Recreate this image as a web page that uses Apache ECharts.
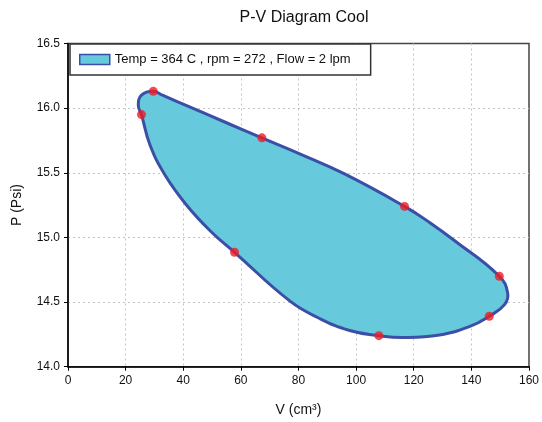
<!DOCTYPE html>
<html>
<head>
<meta charset="utf-8">
<script src="https://cdn.jsdelivr.net/npm/echarts@6/dist/echarts.min.js"></script>
<style>html,body{margin:0;padding:0;background:#fff}#c{width:542px;height:422px}</style>
</head>
<body>
<div id="c"></div>
<script>
// Outline of the loop (V, P), traced clockwise from the upper-left marker
var outlineV = [25.5, 24.4, 25.5, 29.6, 33.0, 42.0, 55.0, 67.3, 80.42, 96.0, 116.8, 125.5, 134.1, 149.7, 152.6, 151.5, 146.2, 139.3, 128.9, 116.5, 107.9, 97.75, 87.35, 76.95, 57.8, 49.77, 41.11, 33.66, 28.46];
var outlineP = [15.95, 16.02, 16.10, 16.13, 16.098, 16.012, 15.887, 15.77, 15.647, 15.491, 15.24, 15.116, 14.976, 14.70, 14.57, 14.48, 14.39, 14.31, 14.245, 14.225, 14.24, 14.28, 14.373, 14.509, 14.885, 15.042, 15.251, 15.483, 15.715];
// Measured points (red markers)
var pointV = [29.6, 25.5, 67.3, 116.8, 149.7, 146.2, 107.9, 57.8];
var pointP = [16.13, 15.95, 15.77, 15.24, 14.70, 14.39, 14.24, 14.885];
var xTicks = [0, 20, 40, 60, 80, 100, 120, 140, 160];
var yTicks = [14.0, 14.5, 15.0, 15.5, 16.0, 16.5];
var seriesName = 'Temp = 364 C , rpm = 272 , Flow = 2 lpm';

var FONT = '"Liberation Sans", Arial, sans-serif';
var chart = echarts.init(document.getElementById('c'), null, {renderer: 'canvas'});
var outlineData = outlineV.map(function (v, i) { return [v, outlineP[i]]; });
var pointData = pointV.map(function (v, i) { return [v, pointP[i]]; });

chart.setOption({
  animation: false,
  backgroundColor: '#fff',
  textStyle: {fontFamily: FONT},
  title: {
    text: 'P-V Diagram Cool',
    left: 299, textAlign: 'center', top: 5,
    textStyle: {fontFamily: FONT, fontSize: 16, fontWeight: 'normal', color: '#111'}
  },
  legend: {
    left: 70, top: 44,
    orient: 'horizontal',
    backgroundColor: '#fff',
    borderColor: '#333', borderWidth: 1.5,
    padding: [9, 20, 9, 9],
    itemWidth: 30, itemHeight: 10,
    data: [{name: seriesName, icon: 'rect'}],
    itemStyle: {color: '#66c9dc', borderColor: '#3a4fa5', borderWidth: 1.5},
    textStyle: {fontFamily: FONT, fontSize: 13, color: '#111'},
    selectedMode: false
  },
  grid: {left: 68, right: 12, top: 43.5, bottom: 55.3, show: true, borderColor: '#444', borderWidth: 1.5, containLabel: false},
  xAxis: {
    type: 'value', min: 0, max: 160, interval: 20,
    name: 'V (cm³)', nameLocation: 'middle', nameGap: 36,
    nameTextStyle: {fontFamily: FONT, fontSize: 14, color: '#111'},
    axisLine: {show: true, lineStyle: {color: '#000', width: 1.5}},
    axisTick: {show: true, length: 4, lineStyle: {color: '#000'}},
    axisLabel: {fontFamily: FONT, fontSize: 12, color: '#111', margin: 8,
      formatter: function (v) { return xTicks.indexOf(v) >= 0 ? String(v) : ''; }},
    splitLine: {show: true, showMinLine: false, showMaxLine: false, lineStyle: {color: '#c4c4c4', type: [2, 3], width: 1}}
  },
  yAxis: {
    type: 'value', min: 14.0, max: 16.5, interval: 0.5,
    name: 'P (Psi)', nameLocation: 'middle', nameGap: 44,
    nameTextStyle: {fontFamily: FONT, fontSize: 14, color: '#111'},
    axisLine: {show: true, lineStyle: {color: '#000', width: 1.5}},
    axisTick: {show: true, length: 4, lineStyle: {color: '#000'}},
    axisLabel: {fontFamily: FONT, fontSize: 12, color: '#111', margin: 8,
      formatter: function (v) { return yTicks.indexOf(Math.round(v*10)/10) >= 0 ? v.toFixed(1) : ''; }},
    splitLine: {show: true, showMinLine: false, showMaxLine: false, lineStyle: {color: '#c4c4c4', type: [2, 3], width: 1}}
  },
  series: [
    {
      name: seriesName,
      type: 'custom',
      itemStyle: {color: '#66c9dc', borderColor: '#3a4fa5'},
      data: outlineData,
      z: 3,
      renderItem: function (params, api) {
        if (params.dataIndex !== 0) return null;
        var pts = outlineData.map(function (d) { return api.coord(d); });
        return {
          type: 'polygon',
          shape: {points: pts, smooth: 0.45},
          style: {fill: '#66c9dc', stroke: '#3a4fa5', lineWidth: 3}
        };
      }
    },
    {
      name: 'points',
      type: 'scatter',
      data: pointData,
      symbol: 'circle',
      symbolSize: 9,
      itemStyle: {color: '#ee1c25', borderWidth: 0},
      z: 5
    }
  ]
});
</script>
</body>
</html>
